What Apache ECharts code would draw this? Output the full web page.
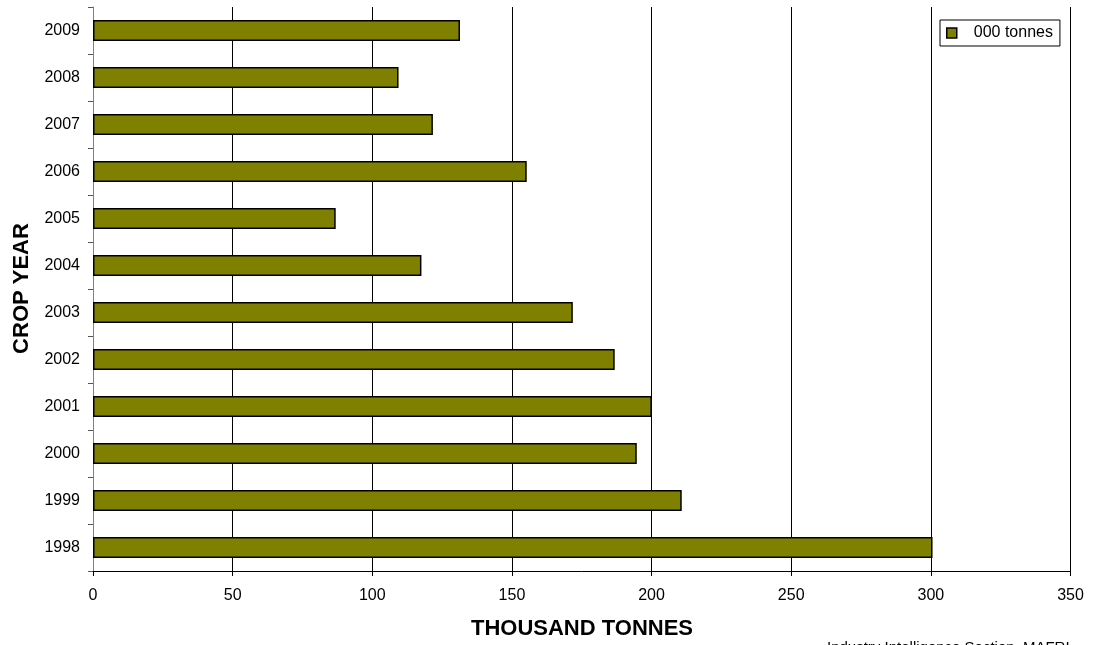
<!DOCTYPE html>
<html>
<head>
<meta charset="utf-8">
<script src="https://cdn.jsdelivr.net/npm/echarts@6/dist/echarts.min.js"></script>
<style>
html,body{margin:0;padding:0;background:#fff;}
#chart{width:1102px;height:645px;}
</style>
</head>
<body>
<div id="chart"></div>
<script>
const categories = ['1998','1999','2000','2001','2002','2003','2004','2005','2006','2007','2008','2009'];
const tonnes = [300.6, 210.8, 194.7, 200.1, 186.8, 171.8, 117.6, 86.9, 155.3, 121.7, 109.4, 131.4];
const xTicks = {min: 0, max: 350, interval: 50};
const seriesName = '000 tonnes';
const xTitle = 'THOUSAND TONNES';
const yTitle = 'CROP YEAR';
const footer = 'Industry Intelligence Section, MAFRI';

const FONT = 'Liberation Sans, Arial, sans-serif';
const chart = echarts.init(document.getElementById('chart'));
chart.setOption({
  animation: false,
  backgroundColor: '#fff',
  grid: {left: 93, right: 31.5, top: 7, bottom: 74, containLabel: false},
  legend: {
    data: [seriesName],
    left: 940, top: 20,
    padding: [5, 7, 5, 6],
    borderColor: '#000', borderWidth: 1,
    backgroundColor: '#fff',
    itemWidth: 10, itemHeight: 10,
    icon: 'rect',
    itemStyle: {borderColor: '#000', borderWidth: 1.5},
    textStyle: {fontFamily: FONT, fontSize: 16, color: '#000', lineHeight: 15, padding: [0, 0, 0, 12]}
  },
  xAxis: {
    type: 'value',
    min: xTicks.min, max: xTicks.max, interval: xTicks.interval,
    axisLine: {show: true, lineStyle: {color: '#000', width: 1}},
    axisTick: {show: true, length: 5, lineStyle: {color: '#000'}},
    axisLabel: {fontFamily: FONT, fontSize: 16, color: '#000', margin: 17},
    splitLine: {show: true, lineStyle: {color: '#000', width: 1}}
  },
  yAxis: {
    type: 'category',
    data: categories,
    axisLine: {show: true, lineStyle: {color: '#808080', width: 1}},
    axisTick: {show: true, length: 5, lineStyle: {color: '#555'}},
    axisLabel: {fontFamily: FONT, fontSize: 16, color: '#000', margin: 13},
    splitLine: {show: false}
  },
  series: [{
    name: seriesName,
    type: 'bar',
    data: tonnes,
    barWidth: 21,
    itemStyle: {color: '#808000', borderColor: '#000', borderWidth: 1.5}
  }],
  graphic: [
    {type: 'text', x: 22, y: 288.5, rotation: Math.PI / 2,
     style: {text: yTitle, align: 'center', verticalAlign: 'middle', font: 'bold 22px ' + FONT, fill: '#000'}},
    {type: 'text', x: 582, y: 629,
     style: {text: xTitle, align: 'center', verticalAlign: 'middle', font: 'bold 22px ' + FONT, fill: '#000'}},
    {type: 'text', x: 827, y: 640,
     style: {text: footer, align: 'left', verticalAlign: 'top', font: '15px ' + FONT, fill: '#000'}}
  ]
});
</script>
</body>
</html>
